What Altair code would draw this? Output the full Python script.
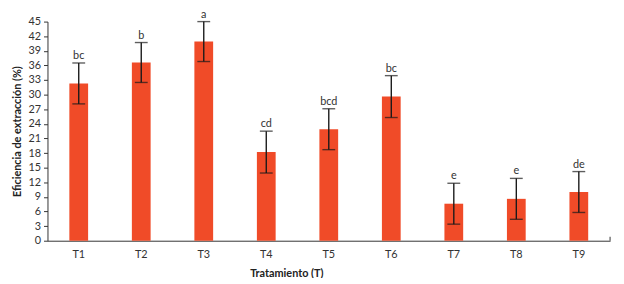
import altair as alt
import pandas as pd

categories = ["T1", "T2", "T3", "T4", "T5", "T6", "T7", "T8", "T9"]
means = [32.3, 36.6, 40.9, 18.2, 22.9, 29.6, 7.6, 8.6, 10.0]
errors = [4.2, 4.1, 4.1, 4.3, 4.2, 4.3, 4.2, 4.2, 4.2]
letters = ["bc", "b", "a", "cd", "bcd", "bc", "e", "e", "de"]
y_ticks = list(range(0, 46, 3))

df = pd.DataFrame({
    "T": categories,
    "mean": means,
    "lo": [m - e for m, e in zip(means, errors)],
    "hi": [m + e for m, e in zip(means, errors)],
    "letter": letters,
})

W, H = 570, 222
FONT = "Lato"

x_scale = alt.Scale(paddingInner=0.7, paddingOuter=0.35)
x_axis = alt.Axis(title="Tratamiento (T)", labelAngle=0, ticks=False,
                  labelPadding=8, titlePadding=8, titleX=242,
                  titleAlign="center", titleAnchor="start")
x = alt.X("T:N", sort=categories, scale=x_scale, axis=x_axis)
y_scale = alt.Scale(domain=[0, 45], nice=False)
y_axis = alt.Axis(title="Eficiencia de extracción (%)", values=y_ticks,
                  tickSize=4, labelPadding=3, titlePadding=6, grid=False,
                  labelOverlap=False, labelFlush=False)


def yq(field):
    return alt.Y(field, type="quantitative", scale=y_scale, axis=y_axis)


base = alt.Chart(df)
bars = base.mark_bar(color="#F04B28").encode(x=x, y=yq("mean"))
rule = base.mark_rule(color="#1a1a1a", strokeWidth=1.4).encode(
    x=x, y=yq("lo"), y2="hi:Q")
cap_hi = base.mark_tick(color="#1a1a1a", thickness=1.4, size=13, orient="horizontal").encode(
    x=x, y=yq("hi"))
cap_lo = base.mark_tick(color="#1a1a1a", thickness=1.4, size=13, orient="horizontal").encode(
    x=x, y=yq("lo"))
text = base.mark_text(font=FONT, fontSize=11, color="#333333", baseline="alphabetic", dy=-4).encode(
    x=x, y=yq("hi"), text="letter:N")
endtick = alt.Chart(pd.DataFrame({"a": [0]})).mark_rule(color="#333333", strokeWidth=1).encode(
    x=alt.value(W), y=alt.value(H - 4), y2=alt.value(H))

chart = alt.layer(bars, rule, cap_hi, cap_lo, text, endtick).properties(
    width=W, height=H,
    autosize=alt.AutoSizeParams(type="none"),
    padding={"left": 40, "top": 12, "right": 6, "bottom": 36},
).configure_view(stroke=None).configure_axis(
    labelFont=FONT, titleFont=FONT, labelFontSize=11, titleFontSize=11,
    labelColor="#333333", titleColor="#222222", titleFontWeight="bold",
    domainColor="#333333", tickColor="#333333", domainWidth=1,
)

chart.save("out.html", embed_options={"renderer": "svg", "actions": False})
